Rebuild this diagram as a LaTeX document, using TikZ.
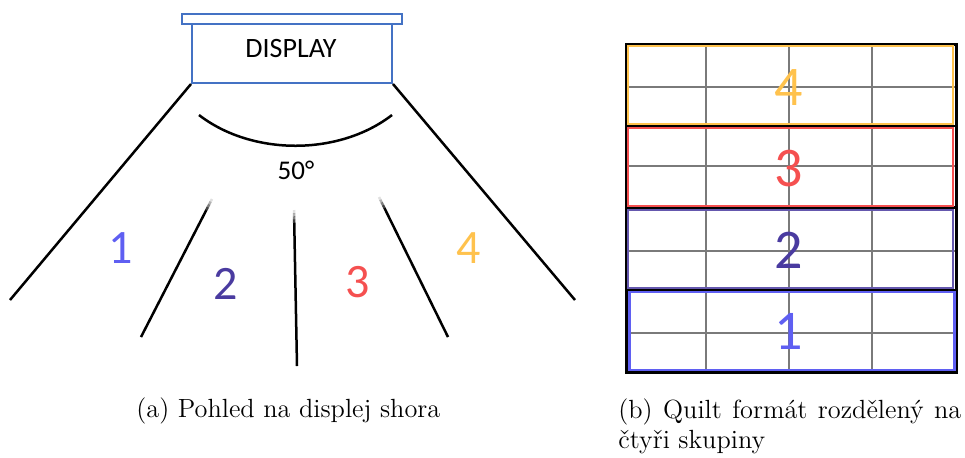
\documentclass[tikz,border=0pt]{standalone}
\usepackage{fontspec}
\newfontfamily\calfont{Carlito}
\usetikzlibrary{calc}
\definecolor{dispblue}{HTML}{4472C4}
\definecolor{grpone}{HTML}{5F5FF2}
\definecolor{grptwo}{HTML}{4A3BA0}
\definecolor{grpthree}{HTML}{F55050}
\definecolor{grpfour}{HTML}{FFC24D}
\definecolor{gridgray}{HTML}{7A7A7A}

% a fan line whose upper end fades out
\newcommand\fadedline[2]{%
  \foreach \s/\o in {0/0.12,0.02/0.3,0.04/0.5,0.06/0.75}{%
    \pgfmathsetmacro\e{\s+0.021}%
    \draw[fanline,line cap=butt,opacity=\o] ($(#1)!\s!(#2)$) -- ($(#1)!\e!(#2)$);}
  \draw[fanline] ($(#1)!0.08!(#2)$) -- (#2);}

\begin{document}
\begin{tikzpicture}[x=0.5pt,y=-0.5pt,
  fanline/.style={line width=1.25pt,black},
  dispbox/.style={draw=dispblue,line width=1pt,inner sep=0pt},
  sanslabel/.style={font=\calfont\fontsize{14}{16}\selectfont,inner sep=0pt},
  fannum/.style={font=\calfont\fontsize{24}{28}\selectfont,inner sep=0pt},
  quiltnum/.style={font=\calfont\fontsize{28}{32}\selectfont,inner sep=0pt},
  gridline/.style={gridgray,line width=0.65pt},
  grpline/.style={black,line width=1.1pt},
  grpbox/.style={draw,line width=1pt,inner sep=0pt,minimum width=162.5pt,minimum height=39pt},
  captxt/.style={font=\fontsize{13.15}{15}\selectfont,inner sep=0pt,anchor=base west}]
\useasboundingbox (0,0) rectangle (965,457);

% ---- (a) display seen from above ----
\node[dispbox,minimum width=110pt,minimum height=5pt] (cap) at (292,19) {};
\node[dispbox,minimum width=100pt,minimum height=29.5pt] (disp) at (292,53.5) {};
\node[sanslabel] (disptext) at (291,49) {DISPLAY};

\coordinate (a1) at (10,300);
\coordinate (b0) at (212,199); \coordinate (b1) at (141,337);
\coordinate (c0) at (294,210); \coordinate (c1) at (297,366);
\coordinate (d0) at (379,197); \coordinate (d1) at (448,337);
\coordinate (e1) at (575,300);

\draw[fanline] (disp.south west) -- (a1);
\draw[fanline] (disp.south east) -- (e1);
\fadedline{b0}{b1}
\fadedline{c0}{c1}
\fadedline{d0}{d1}

\coordinate (arcl) at (199,115);
\coordinate (arcr) at (392,115);
\draw[line width=1.25pt] (arcl) .. controls (252,156) and (339,156) .. (arcr);
\node[sanslabel,font=\calfont\fontsize{13.5}{15}\selectfont] (angle) at (296,170) {50°};

\node[fannum,text=grpone] (n1) at (121,248) {1};
\node[fannum,text=grptwo] (n2) at (226,284) {2};
\node[fannum,text=grpthree] (n3) at (358,282) {3};
\node[fannum,text=grpfour] (n4) at (469,248) {4};

% ---- (b) quilt split into four groups ----
\foreach \x in {706,789,872}{\draw[gridline] (\x,44) -- (\x,372);}
\foreach \y in {87,166,251,333}{\draw[gridline] (626,\y) -- (956,\y);}
\foreach \y in {126,207.5,290}{\draw[grpline] (626,\y) -- (956,\y);}
\node[draw,line width=1.5pt,minimum width=165pt,minimum height=164pt,inner sep=0pt] (quilt) at (791,208) {};

\node[grpbox,draw=grpfour] (g4) at (790.5,85) {};
\node[grpbox,draw=grpthree] (g3) at (790.5,167) {};
\node[grpbox,draw=grptwo!85!white] (g2) at (790.5,248.5) {};
\node[grpbox,draw=grpone,line width=1.2pt] (g1) at (792,331) {};

\node[quiltnum,text=grpfour] (q4) at (789,88) {4};
\node[quiltnum,text=grpthree] (q3) at (789,169) {3};
\node[quiltnum,text=grptwo] (q2) at (789,250.5) {2};
\node[quiltnum,text=grpone] (q1) at (789,331) {1};

% ---- captions ----
\node[captxt] (capa) at (136,417) {(a) Pohled na displej shora};
\node[captxt] (capb1) at (618,418) {\makebox[171.5pt][s]{(b) Quilt formát rozdělený na}};
\node[captxt] (capb2) at (618,448) {čtyři skupiny};
\end{tikzpicture}
\end{document}
